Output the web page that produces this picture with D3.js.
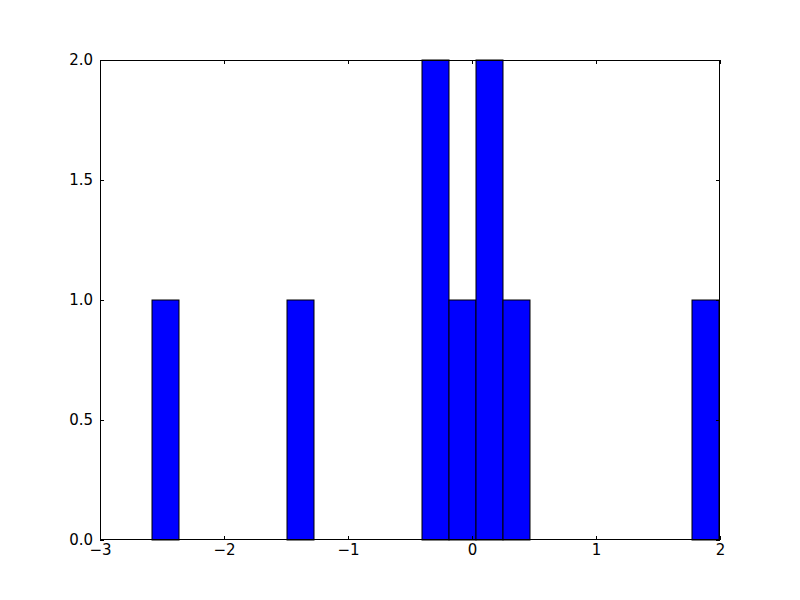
<!DOCTYPE html>
<html><head><meta charset="utf-8">
<script src="https://cdn.jsdelivr.net/npm/d3@7"></script>
<style>body{margin:0;background:#fff}svg{display:block}text{font-family:"DejaVu Sans",sans-serif;font-size:15px;fill:#000}</style>
</head><body>
<svg id="c" width="800" height="600"></svg>
<script>
const binMin = -2.5806;
const binMax = 1.9919;
const counts = [1,0,0,0,0,1,0,0,0,0,2,1,2,1,0,0,0,0,0,0,1];
const xTicks = [-3,-2,-1,0,1,2];
const yTicks = [0,0.5,1,1.5,2];

const svg = d3.select("#c");
const L=100,R=720,T=60,B=540;
const x = d3.scaleLinear().domain([-3,2]).range([L,R]);
const y = d3.scaleLinear().domain([0,2]).range([B,T]);
const bw = (binMax-binMin)/counts.length;
const bins = counts.map((c,i)=>({x0:binMin+i*bw,x1:binMin+(i+1)*bw,c})).filter(d=>d.c>0);

svg.append("rect").attr("x",L).attr("y",T).attr("width",R-L).attr("height",B-T).attr("fill","#fff");
svg.append("g").selectAll("rect").data(bins).join("rect")
  .attr("x",d=>x(d.x0)).attr("width",d=>x(d.x1)-x(d.x0))
  .attr("y",d=>y(d.c)).attr("height",d=>y(0)-y(d.c))
  .attr("fill","#0000ff").attr("stroke","#000").attr("stroke-width",1);

const fmtX = d=>String(d).replace("-","\u2212");
const fmtY = d=>d3.format(".1f")(d);
function styleAxis(g){g.select(".domain").remove();g.selectAll("line").attr("stroke","#000");g.selectAll("text").style("font-family","DejaVu Sans").style("font-size","15px");}
svg.append("g").attr("transform",`translate(0,${B})`)
  .call(d3.axisBottom(x).tickValues(xTicks).tickFormat(fmtX).tickSizeInner(-4).tickSizeOuter(0).tickPadding(4)).call(styleAxis);
svg.append("g").attr("transform",`translate(0,${T})`)
  .call(d3.axisTop(x).tickValues(xTicks).tickFormat("").tickSizeInner(-4).tickSizeOuter(0)).call(styleAxis);
svg.append("g").attr("transform",`translate(${L},0)`)
  .call(d3.axisLeft(y).tickValues(yTicks).tickFormat(fmtY).tickSizeInner(-4).tickSizeOuter(0).tickPadding(7)).call(styleAxis);
svg.append("g").attr("transform",`translate(${R},0)`)
  .call(d3.axisRight(y).tickValues(yTicks).tickFormat("").tickSizeInner(-4).tickSizeOuter(0)).call(styleAxis);
svg.append("rect").attr("x",L+0.5).attr("y",T+0.5).attr("width",R-L-1).attr("height",B-T-1).attr("fill","none").attr("stroke","#000");
</script></body></html>
